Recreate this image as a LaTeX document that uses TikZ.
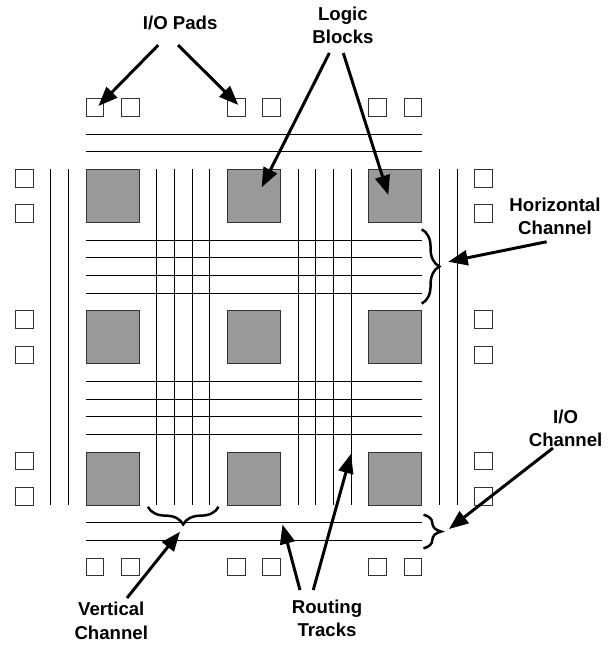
\documentclass[tikz,border=0pt]{standalone}
\usepackage{fontspec}
\setmainfont{Liberation Sans}
\usetikzlibrary{arrows.meta,decorations.pathreplacing}
\definecolor{blockgray}{HTML}{999999}
\tikzset{
  pad/.style={draw=black!80,line width=0.6pt,fill=white,minimum size=0.5cm,inner sep=0pt},
  block/.style={draw=black!80,line width=0.6pt,fill=blockgray,minimum size=1.5cm,inner sep=0pt},
  track/.style={line width=0.7pt},
  lbl/.style={font=\fontsize{15}{18.8}\selectfont\bfseries,align=center,inner sep=0pt},
  arr/.style={line width=2.4pt,-{Triangle[length=5.5mm,width=4.2mm]}},
  chanbrace/.style={line width=2pt,decorate,decoration={brace,amplitude=0.5cm}}
}
\begin{document}
\begin{tikzpicture}[x=0.5cm,y=0.5cm]
  \useasboundingbox (-4.867,9.581) rectangle (29.485,-26.921);
  \foreach \t in {-2,-1,4,5,6,7,12,13,14,15,20,21} {
    \draw[track] (\t,0) -- (\t,-19);
    \draw[track] (0,{-(\t)}) -- (19,{-(\t)});
  }
  \foreach \i in {0,1,2}
    \foreach \j in {0,1,2}
      \node[block] (blk\i\j) at (1.5+8*\i,-1.5-8*\j) {};
  \foreach \p in {0,2,8,10,16,18} {
    \node[pad] (padT\p) at (\p+0.5,3.5) {};
    \node[pad] (padB\p) at (\p+0.5,-22.5) {};
    \node[pad] (padL\p) at (-3.5,-\p-0.5) {};
    \node[pad] (padR\p) at (22.5,-\p-0.5) {};
  }
  \draw[chanbrace] (19,-3.4) -- (19,-7.6);
  \draw[chanbrace] (19.1,-19.55) -- (19.1,-21.45);
  \draw[chanbrace] (7.5,-19.1) -- (3.5,-19.1);
  \node[lbl] (iopads) at (5.33,8.28) {I/O Pads};
  \node[lbl] (logic) at (14.54,8.14) {Logic\\Blocks};
  \node[lbl] (hchan) at (26.54,-2.68) {Horizontal\\Channel};
  \node[lbl] (iochan) at (27.14,-14.66) {I/O\\Channel};
  \node[lbl] (vchan) at (1.43,-25.56) {Vertical\\Channel};
  \node[lbl] (tracks) at (13.64,-25.41) {Routing\\Tracks};
  \coordinate (hchantip) at (20.5,-5.23);
  \coordinate (iochantip) at (20.54,-20.36);
  \coordinate (vchantip) at (5.32,-20.51);
  \coordinate (tracktipA) at (11.12,-20.1);
  \coordinate (tracktipB) at (15,-16.1);
  \draw[arr] ([shift={(-1.24,-1.25)}]iopads.center) -- ([shift={(0.2,0.08)}]padT0.center);
  \draw[arr] ([shift={(-0.12,-1.25)}]iopads.center) -- ([shift={(0.12,0.14)}]padT8.center);
  \draw[arr] ([shift={(-0.77,-1.56)}]logic.center) -- ([shift={(0.44,0.48)}]blk10.center);
  \draw[arr] ([shift={(0.02,-1.56)}]logic.center) -- ([shift={(-0.39,0.05)}]blk20.center);
  \draw[arr] ([shift={(-0.47,-1.42)}]hchan.center) -- (hchantip);
  \draw[arr] ([shift={(-0.71,-1.11)}]iochan.center) -- (iochantip);
  \draw[arr] ([shift={(0.89,1.3)}]vchan.center) -- (vchantip);
  \draw[arr] ([shift={(-1.53,1.6)}]tracks.center) -- (tracktipA);
  \draw[arr] ([shift={(-0.78,1.6)}]tracks.center) -- (tracktipB);
\end{tikzpicture}
\end{document}
